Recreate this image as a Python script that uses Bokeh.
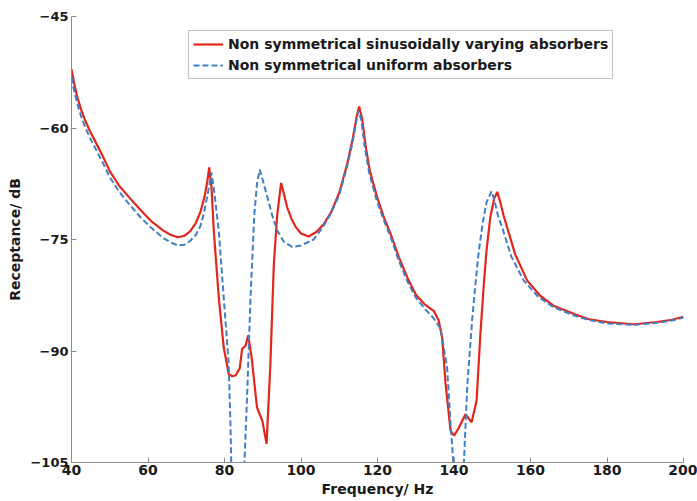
from bokeh.plotting import figure
from bokeh.models import Range1d, Legend, LegendItem, FixedTicker
from bokeh.embed import file_html
from bokeh.resources import INLINE

# Data (frequency in Hz, receptance in dB)
freq_sin = [40.0, 40.7, 41.5, 42.5, 43.6, 44.8, 46.3, 48.0, 50.0, 52.5, 55.0, 58.0, 61.0, 64.0,
            66.0, 67.8, 69.5, 71.0, 72.5, 73.7, 74.8, 75.5, 76.0, 76.6, 77.2, 78.5, 79.8, 81.1,
            82.0, 82.9, 84.0, 84.6, 85.5, 86.2, 87.1, 88.5, 89.9, 91.0, 92.0, 92.9, 93.8, 94.8,
            95.5, 96.4, 97.5, 98.6, 100.0, 102.0, 104.0, 106.0, 108.0, 110.0, 112.0, 113.5, 114.5,
            115.2, 116.0, 116.9, 118.0, 119.9, 121.5, 123.4, 125.6, 127.8, 130.0, 132.5, 134.7,
            136.0, 136.9, 137.8, 139.1, 140.0, 141.3, 143.0, 144.6, 145.9, 146.9, 147.8, 148.5,
            149.5, 150.5, 151.3, 152.0, 153.0, 153.9, 156.0, 159.1, 162.6, 166.0, 171.3, 175.0,
            180.0, 187.0, 193.1, 197.0, 200.0]
rec_sin = [-52.1, -54.0, -55.8, -57.5, -59.0, -60.4, -61.9, -63.6, -65.8, -67.8, -69.3, -71.0,
           -72.6, -73.8, -74.4, -74.7, -74.5, -73.9, -72.8, -71.3, -69.2, -67.2, -65.3, -68.0,
           -73.8, -82.8, -89.5, -93.1, -93.4, -93.3, -92.3, -89.7, -89.3, -87.9, -90.9, -97.6,
           -99.4, -102.5, -91.7, -78.3, -71.6, -67.4, -68.8, -70.7, -72.2, -73.3, -74.2, -74.6,
           -74.0, -72.9, -71.2, -68.7, -65.0, -61.5, -58.6, -57.1, -58.8, -62.4, -65.8, -69.3,
           -71.8, -74.2, -77.4, -80.1, -82.4, -83.8, -84.6, -85.9, -88.2, -94.4, -100.7, -101.4,
           -100.3, -98.5, -99.6, -96.7, -87.7, -81.0, -76.5, -72.0, -69.5, -68.6, -69.8, -71.8,
           -73.4, -77.0, -80.5, -82.6, -83.9, -85.0, -85.7, -86.1, -86.4, -86.1, -85.8, -85.4]

freq_uni = [40.0, 40.7, 41.5, 42.5, 43.6, 44.8, 46.3, 48.0, 50.0, 52.5, 55.0, 58.0, 61.0, 64.0,
            66.0, 67.8, 69.5, 71.0, 72.5, 73.7, 74.6, 75.3, 76.0, 76.6, 77.3, 78.5, 79.8, 81.1,
            81.6, 82.0, 84.8, 85.2, 85.9, 86.8, 87.8, 88.5, 89.2, 90.0, 91.2, 92.5, 93.8, 95.5,
            97.7, 100.0, 103.3, 105.5, 107.7, 110.0, 112.0, 113.5, 114.3, 115.0, 115.8, 116.6,
            117.8, 119.7, 121.5, 123.4, 125.6, 127.8, 130.0, 132.5, 134.7, 136.5, 137.3, 138.2,
            139.1, 139.8, 140.1, 142.4, 142.6, 143.5, 144.8, 145.7, 146.5, 147.5, 148.5, 149.8,
            150.6, 151.5, 152.6, 155.0, 158.2, 162.0, 166.0, 171.3, 175.0, 180.0, 187.0, 193.1,
            197.0, 200.0]
rec_uni = [-53.2, -55.0, -56.7, -58.4, -59.9, -61.3, -62.8, -64.5, -66.6, -68.6, -70.2, -72.0,
           -73.5, -74.8, -75.4, -75.8, -75.7, -75.2, -74.4, -73.2, -71.5, -69.7, -67.8, -66.0,
           -68.5, -73.8, -82.8, -91.7, -100.7, -112.0, -112.0, -105.2, -96.2, -82.8, -71.6,
           -67.5, -65.6, -67.0, -69.3, -71.8, -73.8, -75.3, -76.0, -75.8, -75.0, -73.5, -71.6,
           -69.0, -65.3, -61.9, -59.5, -57.7, -59.0, -62.3, -66.0, -69.6, -72.2, -74.6, -77.9,
           -80.6, -82.8, -84.4, -85.6, -87.0, -89.5, -92.2, -99.8, -104.8, -112.0, -112.0,
           -104.8, -94.4, -85.5, -80.5, -76.5, -72.8, -70.0, -68.5, -69.8, -71.8, -73.4, -77.3,
           -80.5, -82.7, -84.1, -85.2, -85.8, -86.3, -86.5, -86.2, -85.9, -85.5]

x_ticks = [40, 60, 80, 100, 120, 140, 160, 180, 200]
y_ticks = [-105, -90, -75, -60, -45]
labels = ["Non symmetrical sinusoidally varying absorbers", "Non symmetrical uniform absorbers"]

FONT = "DejaVu Sans"
AXIS_COLOR = "#8a8a8a"

p = figure(width=697, height=501, output_backend="svg", toolbar_location=None,
           x_range=Range1d(40, 200), y_range=Range1d(-105, -45),
           min_border_left=71, min_border_right=14, min_border_top=16, min_border_bottom=39)
p.outline_line_color = None
p.xgrid.visible = False
p.ygrid.visible = False

r1 = p.line(freq_sin, rec_sin, line_color="#e3261c", line_width=2.2)
r2 = p.line(freq_uni, rec_uni, line_color="#3f7fc6", line_width=2.0, line_dash="6 3")

for ax in (p.xaxis[0], p.yaxis[0]):
    ax.axis_line_color = AXIS_COLOR
    ax.major_tick_line_color = AXIS_COLOR
    ax.major_tick_in = 5
    ax.major_tick_out = 0
    ax.minor_tick_line_color = None
    ax.major_label_text_font = FONT
    ax.major_label_text_font_style = "bold"
    ax.major_label_text_font_size = "14px"
    ax.major_label_text_color = "#1a1a1a"
    ax.axis_label_text_font = FONT
    ax.axis_label_text_font_style = "bold"
    ax.axis_label_text_font_size = "14px"
    ax.axis_label_text_color = "#1a1a1a"

p.yaxis.major_label_text_font_size = "13px"
p.xaxis.ticker = FixedTicker(ticks=x_ticks)
p.yaxis.ticker = FixedTicker(ticks=y_ticks)
p.xaxis.axis_label = "Frequency/ Hz"
p.yaxis.axis_label = "Receptance/ dB"
p.xaxis.major_label_standoff = 2
p.xaxis.axis_label_standoff = 3
p.yaxis.major_label_standoff = 3
p.yaxis.axis_label_standoff = 4

legend = Legend(items=[LegendItem(label=labels[0], renderers=[r1]),
                       LegendItem(label=labels[1], renderers=[r2])],
                location=(117, 383))
legend.label_text_font = FONT
legend.label_text_font_style = "bold"
legend.label_text_font_size = "14px"
legend.label_text_color = "#1a1a1a"
legend.border_line_color = "#8a8a8a"
legend.border_line_width = 1
legend.background_fill_alpha = 1.0
legend.glyph_width = 30
legend.glyph_height = 18
legend.label_height = 18
legend.label_standoff = 5
legend.padding = 4
legend.spacing = 3
legend.margin = 0
p.add_layout(legend, "center")

open("out.html", "w").write(file_html(p, INLINE))
